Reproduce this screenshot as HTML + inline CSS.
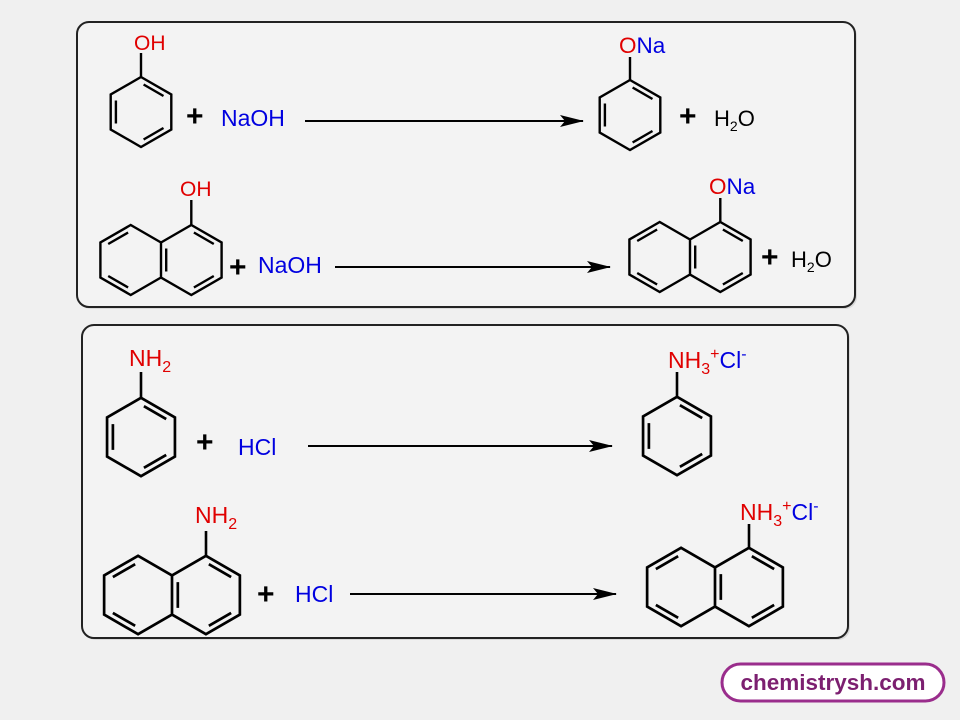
<!DOCTYPE html>
<html><head><meta charset="utf-8"><style>
html,body{margin:0;padding:0;background:#f0f0f0;}
svg{display:block;font-family:"Liberation Sans",sans-serif;}
</style></head><body>
<svg width="960" height="720" viewBox="0 0 960 720" xmlns="http://www.w3.org/2000/svg">
<defs>
<g id="bz" fill="none" stroke="#000" stroke-width="2.4" stroke-linejoin="miter">
<path d="M0,-35 L30.3,-17.5 L30.3,17.5 L0,35 L-30.3,17.5 L-30.3,-17.5 Z"/>
<path d="M2.6,-27.5 L22.5,-16 M-25.1,-11.5 L-25.1,11.5 M22.5,16 L2.6,27.5"/>
</g>
<g id="nap" fill="none" stroke="#000" stroke-width="2.4">
<path d="M0,-17.5 L30.3,-35 L60.6,-17.5 L60.6,17.5 L30.3,35 L0,17.5 Z M0,-17.5 L-30.3,-35 L-60.6,-17.5 L-60.6,17.5 L-30.3,35 L0,17.5"/>
<path d="M32.9,-27.5 L52.8,-16 M52.8,16 L32.9,27.5 M5.2,-11.5 L5.2,11.5 M-52.8,-16 L-32.9,-27.5 M-52.8,16 L-32.9,27.5"/>
</g>
<marker id="ah" markerWidth="24" markerHeight="12" refX="23" refY="6" orient="auto" markerUnits="userSpaceOnUse">
<path d="M0,0 L24,6 L0,12 L5,6 Z" fill="#000"/>
</marker>
</defs>

<rect x="79" y="24" width="778" height="285" rx="12" fill="#d8d8d8"/>
<rect x="77" y="22" width="778" height="285" rx="12" fill="#f3f3f3" stroke="#222" stroke-width="2"/>
<rect x="84" y="327" width="766" height="313" rx="12" fill="#d8d8d8"/>
<rect x="82" y="325" width="766" height="313" rx="12" fill="#f3f3f3" stroke="#222" stroke-width="2"/>

<!-- Row 1 -->
<use href="#bz" x="141" y="112"/>
<line x1="141" y1="77" x2="141" y2="53" stroke="#000" stroke-width="2.4"/>
<text x="134" y="50" font-size="21" fill="#e00000">OH</text>
<text x="186" y="126" font-size="30" font-weight="bold" fill="#000">+</text>
<text x="221" y="126" font-size="23" fill="#0000e0">NaOH</text>
<line x1="305" y1="121" x2="583" y2="121" stroke="#000" stroke-width="2" marker-end="url(#ah)"/>
<use href="#bz" x="630" y="115"/>
<line x1="630" y1="80" x2="630" y2="57" stroke="#000" stroke-width="2.4"/>
<text x="619" y="53" font-size="22.5" fill="#e00000">O<tspan fill="#0000e0">Na</tspan></text>
<text x="679" y="126" font-size="30" font-weight="bold" fill="#000">+</text>
<text x="714" y="126" font-size="22" fill="#000">H<tspan font-size="14" dy="5">2</tspan><tspan dy="-5">O</tspan></text>

<!-- Row 2 -->
<use href="#nap" x="161" y="260"/>
<line x1="191.3" y1="225" x2="191.3" y2="200" stroke="#000" stroke-width="2.4"/>
<text x="180" y="196" font-size="21" fill="#e00000">OH</text>
<text x="229" y="277" font-size="30" font-weight="bold" fill="#000">+</text>
<text x="258" y="273" font-size="23" fill="#0000e0">NaOH</text>
<line x1="335" y1="267" x2="610" y2="267" stroke="#000" stroke-width="2" marker-end="url(#ah)"/>
<use href="#nap" x="690" y="257"/>
<line x1="720.3" y1="222" x2="720.3" y2="198" stroke="#000" stroke-width="2.4"/>
<text x="709" y="194" font-size="22.5" fill="#e00000">O<tspan fill="#0000e0">Na</tspan></text>
<text x="761" y="267" font-size="30" font-weight="bold" fill="#000">+</text>
<text x="791" y="267" font-size="22" fill="#000">H<tspan font-size="14" dy="5">2</tspan><tspan dy="-5">O</tspan></text>

<!-- Row 3 -->
<g transform="translate(141,437) scale(1.12)"><use href="#bz"/></g>
<line x1="141" y1="398" x2="141" y2="372" stroke="#000" stroke-width="2.6"/>
<text x="129" y="366" font-size="23" fill="#e00000">NH<tspan font-size="16" dy="6">2</tspan></text>
<text x="196" y="452" font-size="30" font-weight="bold" fill="#000">+</text>
<text x="238" y="455" font-size="23" fill="#0000e0">HCl</text>
<line x1="308" y1="446" x2="612" y2="446" stroke="#000" stroke-width="2" marker-end="url(#ah)"/>
<g transform="translate(677,436) scale(1.12)"><use href="#bz"/></g>
<line x1="677" y1="397" x2="677" y2="372" stroke="#000" stroke-width="2.6"/>
<text x="668" y="368" font-size="23" fill="#e00000">NH<tspan font-size="16" dy="6">3</tspan><tspan font-size="16" dy="-15">+</tspan><tspan fill="#0000e0" dy="9">Cl</tspan><tspan fill="#0000e0" font-size="16" dy="-9">-</tspan></text>

<!-- Row 4 -->
<g transform="translate(172,595) scale(1.12)"><use href="#nap"/></g>
<line x1="206" y1="556" x2="206" y2="531" stroke="#000" stroke-width="2.6"/>
<text x="195" y="523" font-size="23" fill="#e00000">NH<tspan font-size="16" dy="6">2</tspan></text>
<text x="257" y="604" font-size="30" font-weight="bold" fill="#000">+</text>
<text x="295" y="602" font-size="23" fill="#0000e0">HCl</text>
<line x1="350" y1="594" x2="616" y2="594" stroke="#000" stroke-width="2" marker-end="url(#ah)"/>
<g transform="translate(715,587) scale(1.12)"><use href="#nap"/></g>
<line x1="749" y1="548" x2="749" y2="524" stroke="#000" stroke-width="2.6"/>
<text x="740" y="520" font-size="23" fill="#e00000">NH<tspan font-size="16" dy="6">3</tspan><tspan font-size="16" dy="-15">+</tspan><tspan fill="#0000e0" dy="9">Cl</tspan><tspan fill="#0000e0" font-size="16" dy="-9">-</tspan></text>

<!-- logo -->
<rect x="722" y="664" width="222" height="37" rx="18.5" fill="#fff" stroke="#9a2d8c" stroke-width="3"/>
<text x="833" y="690" font-size="22.5" font-weight="bold" fill="#7c1f70" text-anchor="middle">chemistrysh.com</text>
</svg>
</body></html>
